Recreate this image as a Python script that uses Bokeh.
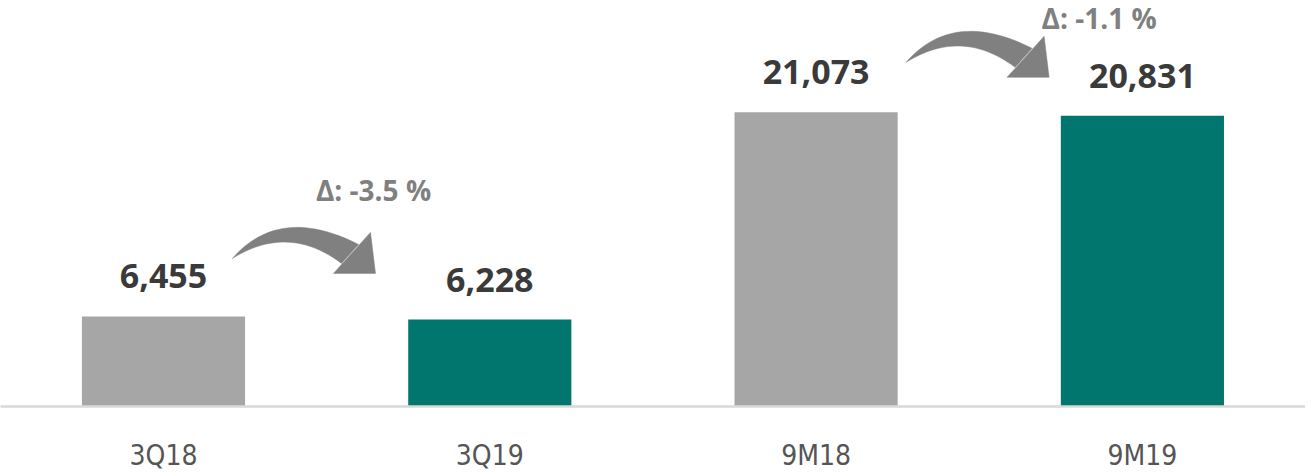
from bokeh.plotting import figure
from bokeh.models import FixedTicker, Range1d
from bokeh.core.properties import value
from bokeh.embed import file_html
from bokeh.resources import INLINE

# ---------------- data ----------------
categories = ["3Q18", "3Q19", "9M18", "9M19"]
values = [6455, 6228, 21073, 20831]
bar_colors = ["#a6a6a6", "#00766f", "#a6a6a6", "#00766f"]
pairs = [(0, 1), (2, 3)]

# ---------------- layout / style ----------------
FW, FH = 1305, 406
PX_PER_X = 326.3          # pixels per category band
PX_PER_Y = 0.01396        # pixels per unit value
x0 = 1 - 163 / PX_PER_X
x1 = x0 + FW / PX_PER_X
y0, y1 = 0, FH / PX_PER_Y
ux = (x1 - x0) / FW       # data units per pixel (x)
uy = (y1 - y0) / FH       # data units per pixel (y)

GREY_ARROW = "#808080"
# annotation placements (pixels, relative to first bar's top-centre of each pair)
arrow_tail_off = [(69, -58), (90, -50)]
delta_text_off = [(210, -126), (283, -94)]
LABEL_GAP = 40

xs = [i + 1 for i in range(len(categories))]

p = figure(frame_width=FW, frame_height=FH,
           x_range=Range1d(x0, x1), y_range=Range1d(y0, y1),
           output_backend="svg", toolbar_location=None,
           y_axis_location=None, min_border=0,
           outline_line_color=None, background_fill_color="white",
           border_fill_color="white")
p.xgrid.visible = False
p.ygrid.visible = False

ax = p.xaxis[0]
ax.ticker = FixedTicker(ticks=xs)
ax.major_label_overrides = {x: c for x, c in zip(xs, categories)}
ax.axis_line_color = "#d9d9d9"
ax.axis_line_width = 2.5
ax.major_tick_line_color = None
ax.minor_tick_line_color = None
ax.major_label_standoff = 26
ax.major_label_text_font = "DejaVu Sans Condensed"
ax.major_label_text_font_size = "28px"
ax.major_label_text_color = "#555555"

# bars
p.vbar(x=xs, top=values, bottom=0, width=0.5,
       fill_color=bar_colors, line_color=None)

# value labels
p.text(x=xs, y=[v + LABEL_GAP * uy for v in values],
       text=[f"{v:,}" for v in values],
       text_align="center", text_baseline="alphabetic",
       text_font=value("Open Sans"), text_font_style="bold",
       text_font_size="34px", text_color="#3a3a3a")


def quad(p0, c, p2, n=24):
    pts = []
    for k in range(n + 1):
        t = k / n
        a, b, d = (1 - t) ** 2, 2 * t * (1 - t), t ** 2
        pts.append((a * p0[0] + b * c[0] + d * p2[0],
                    a * p0[1] + b * c[1] + d * p2[1]))
    return pts


# arrow shape in pixels relative to tail (y down)
upper = quad((0, 0), (47, -54), (126, -14))
lower = quad((0, 0), (56, -35), (109, 5))
head = [(138, -26), (143, 15), (101, 15)]

body_xs, body_ys, head_xs, head_ys = [], [], [], []
dtx, dty, dtext = [], [], []
for k, (i, j) in enumerate(pairs):
    tx = xs[i] + arrow_tail_off[k][0] * ux
    ty = values[i] - arrow_tail_off[k][1] * uy
    outline = upper + lower[::-1]
    body_xs.append([tx + a * ux for a, b in outline])
    body_ys.append([ty - b * uy for a, b in outline])
    head_xs.append([tx + a * ux for a, b in head])
    head_ys.append([ty - b * uy for a, b in head])
    dtx.append(xs[i] + delta_text_off[k][0] * ux)
    dty.append(values[i] - delta_text_off[k][1] * uy)
    pct = (values[j] - values[i]) / values[i] * 100
    dtext.append(f"\u0394: {pct:.1f} %")

p.patches(body_xs, body_ys, fill_color=GREY_ARROW, line_color=GREY_ARROW, line_width=0.5)
p.patches(head_xs, head_ys, fill_color=GREY_ARROW, line_color=GREY_ARROW, line_width=0.5)

p.text(x=dtx, y=dty, text=dtext, text_align="center", text_baseline="alphabetic",
       text_font=value("Open Sans"), text_font_style="bold",
       text_font_size="28px", text_color=GREY_ARROW)

open("out.html", "w").write(file_html(p, INLINE))
